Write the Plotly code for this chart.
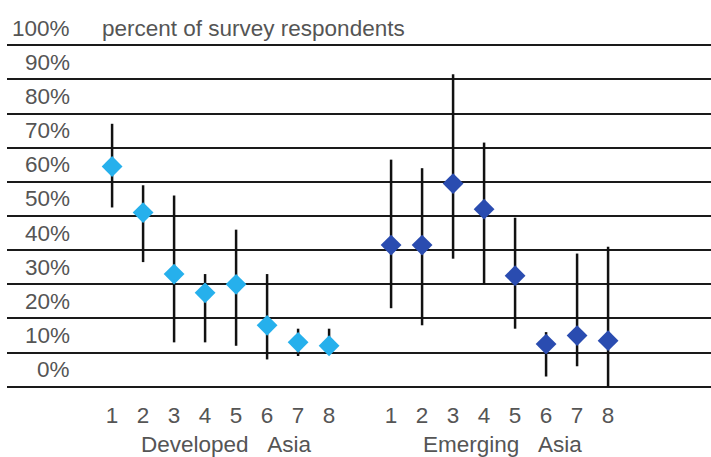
import plotly.graph_objects as go

# Survey results: point estimate with low/high range, per item and region
items = ["1", "2", "3", "4", "5", "6", "7", "8"]

developed_mid = [64.5, 51, 33, 27.5, 30, 18, 13, 12]
developed_low = [52.5, 36.5, 13, 13, 12, 8, 9, 11]
developed_high = [77, 59, 56, 33, 46, 33, 17, 17]

emerging_mid = [41.5, 41.5, 59.5, 52, 32.5, 12.5, 15, 13.5]
emerging_low = [23, 18, 37.5, 30, 17, 3, 6, 0]
emerging_high = [66.5, 64, 91.5, 71.5, 49.5, 16, 39, 41]

group_names = ["Developed\u00a0\u00a0\u00a0Asia", "Emerging\u00a0\u00a0\u00a0Asia"]
y_ticks = [0, 10, 20, 30, 40, 50, 60, 70, 80, 90, 100]
y_title = "percent of survey respondents"

TEXT = "#555555"
FONT = "Liberation Sans, Arial, sans-serif"
FS = 22.5
Y_RANGE = [-3, 103]

dev_x = list(range(len(items)))
emg_x = [i + len(items) + 1 for i in range(len(items))]


def series(xs, mid, low, high, color):
    return go.Scatter(
        x=xs,
        y=mid,
        mode="markers",
        marker=dict(symbol="diamond", size=16, color=color, line=dict(width=0)),
        error_y=dict(
            type="data",
            symmetric=False,
            array=[h - m for h, m in zip(high, mid)],
            arrayminus=[m - l for m, l in zip(mid, low)],
            color="#111111",
            thickness=2.5,
            width=0,
        ),
        showlegend=False,
        hoverinfo="y",
    )


fig = go.Figure()
fig.add_trace(series(dev_x, developed_mid, developed_low, developed_high, "#26b0ec"))
fig.add_trace(series(emg_x, emerging_mid, emerging_low, emerging_high, "#2a4cb0"))


def to_paper(v):
    return (v - Y_RANGE[0]) / (Y_RANGE[1] - Y_RANGE[0])


annotations = []
# y labels sit in the band above each gridline, right-aligned
for v in y_ticks:
    annotations.append(dict(
        text=f"{v}%", xref="paper", yref="paper", x=0.093, y=to_paper(v + 5),
        xanchor="right", yanchor="middle", showarrow=False,
        font=dict(family=FONT, size=FS, color=TEXT),
    ))
annotations.append(dict(
    text=y_title, xref="paper", yref="paper", x=0.132, y=to_paper(105),
    xanchor="left", yanchor="middle", showarrow=False,
    font=dict(family=FONT, size=FS, color=TEXT),
))
for name, xs, dx in zip(group_names, [dev_x, emg_x], [0.2, 0.1]):
    annotations.append(dict(
        text=name, xref="x", yref="paper", x=(xs[0] + xs[-1]) / 2 + dx, y=-0.132,
        xanchor="center", yanchor="middle", showarrow=False,
        font=dict(family=FONT, size=FS, color=TEXT),
    ))

fig.update_layout(
    width=711,
    height=457,
    margin=dict(l=7, r=0, t=34.74, b=59.74),
    paper_bgcolor="white",
    plot_bgcolor="white",
    annotations=annotations,
    xaxis=dict(
        range=[-3.39, 19.32],
        tickvals=dev_x + emg_x,
        ticktext=items + items,
        showgrid=False,
        zeroline=False,
        showline=False,
        ticks="",
        ticklabelstandoff=2,
        tickfont=dict(family=FONT, size=FS, color=TEXT),
    ),
    yaxis=dict(
        range=Y_RANGE,
        tick0=0,
        dtick=10,
        showgrid=True,
        gridcolor="#1a1a1a",
        gridwidth=2,
        zeroline=False,
        showline=False,
        showticklabels=False,
        ticks="",
    ),
)

fig.write_html("out.html")
